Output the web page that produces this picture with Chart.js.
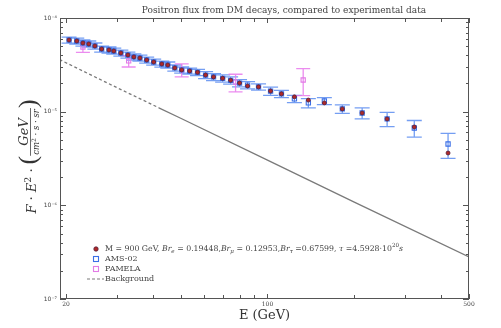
<!DOCTYPE html>
<html>
<head>
<meta charset="utf-8">
<script src="https://cdn.jsdelivr.net/npm/chart.js@4.4.0/dist/chart.umd.min.js"></script>
<style>
  html, body { margin: 0; padding: 0; background: #fff; }
</style>
</head>
<body>
<canvas id="fluxChart" width="501" height="328"></canvas>
<script>
// energies of the AMS-02 bins (GeV), the model is evaluated at the same energies
const energies = [20.5, 21.8, 22.9, 24.0, 25.2, 26.6, 28.2, 29.3, 31.0, 32.8, 34.4, 36.1, 38.1, 40.3,
  43.0, 45.1, 47.7, 50.4, 53.7, 57.2, 61.0, 65.0, 69.9, 74.5, 80.0, 85.3, 93.1, 102.5, 111.8, 124,
  138.6, 157.5, 181.8, 213, 260, 323, 423];

const amsFlux = [5.82e-5, 5.68e-5, 5.41e-5, 5.28e-5, 5.03e-5, 4.67e-5, 4.56e-5, 4.44e-5, 4.23e-5, 4.03e-5,
  3.84e-5, 3.74e-5, 3.56e-5, 3.39e-5, 3.23e-5, 3.15e-5, 2.93e-5, 2.79e-5, 2.72e-5, 2.63e-5,
  2.46e-5, 2.35e-5, 2.27e-5, 2.16e-5, 2.02e-5, 1.92e-5, 1.84e-5, 1.66e-5, 1.55e-5, 1.37e-5,
  1.24e-5, 1.30e-5, 1.07e-5, 9.68e-6, 8.36e-6, 6.70e-6, 4.52e-6];

const amsErr = [0.44e-5, 0.43e-5, 0.41e-5, 0.40e-5, 0.38e-5, 0.35e-5, 0.34e-5, 0.33e-5, 0.32e-5, 0.30e-5,
  0.29e-5, 0.28e-5, 0.27e-5, 0.25e-5, 0.24e-5, 0.24e-5, 0.22e-5, 0.21e-5, 0.20e-5, 0.20e-5,
  0.21e-5, 0.20e-5, 0.20e-5, 0.19e-5, 0.18e-5, 0.17e-5, 0.14e-5, 0.17e-5, 0.14e-5, 0.12e-5,
  0.14e-5, 0.11e-5, 0.11e-5, 0.13e-5, 0.145e-5, 0.135e-5, 0.135e-5];

const modelFlux = [5.82e-5, 5.68e-5, 5.41e-5, 5.28e-5, 5.03e-5, 4.67e-5, 4.56e-5, 4.44e-5, 4.23e-5, 4.03e-5,
  3.84e-5, 3.74e-5, 3.56e-5, 3.39e-5, 3.23e-5, 3.15e-5, 2.93e-5, 2.79e-5, 2.72e-5, 2.63e-5,
  2.46e-5, 2.35e-5, 2.27e-5, 2.16e-5, 2.02e-5, 1.88e-5, 1.84e-5, 1.66e-5, 1.55e-5, 1.44e-5,
  1.33e-5, 1.24e-5, 1.07e-5, 9.68e-6, 8.36e-6, 6.87e-6, 3.62e-6];

const pamelaE = [22.9, 33.0, 50.4, 77.5, 133];
const pamelaFlux = [4.90e-5, 3.48e-5, 2.79e-5, 2.07e-5, 2.18e-5];
const pamelaErr = [0.60e-5, 0.48e-5, 0.44e-5, 0.44e-5, 0.70e-5];

const bgE = [19, 30, 42, 50, 100, 200, 500];
const bgFlux = [3.6e-5, 1.81e-5, 1.10e-5, 8.5e-6, 3.04e-6, 1.08e-6, 2.81e-7];

const xTicks = [20, 30, 40, 50, 60, 70, 80, 90, 100, 200, 300, 400, 500];
const xLabels = [20, 100, 500];
const yLabelVals = [1e-7, 1e-6, 1e-5, 1e-4];
const yLabelText = ['10\u207B\u2077', '10\u207B\u2076', '10\u207B\u2075', '10\u207B\u2074'];

const titleText = 'Positron flux from DM decays, compared to experimental data';
// legend label of the model, split in pieces: n normal, i italic, sub, sup
const modelLabel = [
  ['M = 900 GeV, ', 'n'], ['Br', 'i'], ['e', 'sub'], [' = 0.19448,', 'n'],
  ['Br', 'i'], ['\u03BC', 'sub'], [' = 0.12953,', 'n'], ['Br', 'i'], ['\u03C4', 'sub'],
  [' =0.67599, ', 'n'], ['\u03C4', 'i'], [' =4.5928\u00B710', 'n'], ['20', 'sup'], ['s', 'i']
];

const serif = "'DejaVu Serif', 'Liberation Serif', serif";

// minor tick positions of the log y axis
const yTicks = [];
for (let p = -7; p < -4; p++) {
  for (let m = 1; m < 10; m++) yTicks.push(m * Math.pow(10, p));
}
yTicks.push(1e-4);

function pts(xs, ys) {
  return xs.map((x, i) => ({ x: x, y: ys[i] }));
}

function drawRich(ctx, parts, x, y, size) {
  parts.forEach(([t, k]) => {
    let s = size, dy = 0, style = '';
    if (k === 'i') style = 'italic ';
    if (k === 'sub') { s = size * 0.72; dy = size * 0.3; style = 'italic '; }
    if (k === 'sup') { s = size * 0.72; dy = -size * 0.4; }
    ctx.font = style + s + 'px ' + serif;
    ctx.fillText(t, x, y + dy);
    x += ctx.measureText(t).width;
  });
  return x;
}

function richWidth(ctx, parts, size) {
  let w = 0;
  parts.forEach(([t, k]) => {
    let s = size, style = '';
    if (k === 'i') style = 'italic ';
    if (k === 'sub') { s = size * 0.72; style = 'italic '; }
    if (k === 'sup') s = size * 0.72;
    ctx.font = style + s + 'px ' + serif;
    w += ctx.measureText(t).width;
  });
  return w;
}

// error bars with caps
const errorBars = {
  id: 'errorBars',
  beforeDatasetsDraw(chart) {
    const { ctx, chartArea: a, scales: { x, y } } = chart;
    ctx.save();
    ctx.beginPath();
    ctx.rect(a.left, a.top, a.right - a.left, a.bottom - a.top);
    ctx.clip();
    const bars = (xs, vals, errs, color, cap) => {
      ctx.strokeStyle = color;
      ctx.lineWidth = 1.3;
      xs.forEach((e, i) => {
        const px = x.getPixelForValue(e);
        const hi = y.getPixelForValue(vals[i] + errs[i]);
        const lo = y.getPixelForValue(vals[i] - errs[i]);
        ctx.beginPath();
        ctx.moveTo(px, hi); ctx.lineTo(px, lo);
        ctx.moveTo(px - cap, hi); ctx.lineTo(px + cap, hi);
        ctx.moveTo(px - cap, lo); ctx.lineTo(px + cap, lo);
        ctx.stroke();
      });
    };
    bars(energies, amsFlux, amsErr, 'rgba(70,125,238,0.75)', 7.5);
    bars(pamelaE, pamelaFlux, pamelaErr, 'rgba(232,120,236,0.85)', 7);
    ctx.restore();
  }
};

// frame with inward ticks on all four sides
const frame = {
  id: 'frame',
  afterDraw(chart) {
    const { ctx, chartArea: a, scales: { x, y } } = chart;
    ctx.save();
    ctx.strokeStyle = '#555';
    ctx.lineWidth = 1;
    ctx.strokeRect(a.left + 0.5, a.top + 0.5, a.right - a.left - 1, a.bottom - a.top - 1);
    ctx.beginPath();
    x.ticks.forEach(t => {
      const px = Math.round(x.getPixelForValue(t.value)) + 0.5;
      const len = xLabels.includes(t.value) ? 5 : 4;
      ctx.moveTo(px, a.bottom); ctx.lineTo(px, a.bottom - len);
      ctx.moveTo(px, a.top); ctx.lineTo(px, a.top + len);
    });
    y.ticks.forEach(t => {
      const py = Math.round(y.getPixelForValue(t.value)) + 0.5;
      const len = yLabelVals.includes(t.value) ? 6 : 3;
      ctx.moveTo(a.left, py); ctx.lineTo(a.left + len, py);
      ctx.moveTo(a.right, py); ctx.lineTo(a.right - len, py);
    });
    ctx.stroke();
    ctx.restore();
  }
};

// title, rotated y title and legend
const texts = {
  id: 'texts',
  afterDraw(chart) {
    const { ctx, chartArea: a } = chart;
    ctx.save();
    ctx.fillStyle = '#444';
    ctx.textBaseline = 'middle';
    ctx.textAlign = 'center';
    ctx.font = '9px ' + serif;
    ctx.fillText(titleText, 284, 11);

    // legend
    ctx.textAlign = 'left';
    const lx = a.left + 36, tx = a.left + 45, ly = a.bottom - 50, step = 10;
    ctx.beginPath();
    ctx.arc(lx, ly, 2.2, 0, Math.PI * 2);
    ctx.fillStyle = '#b02828';
    ctx.fill();
    ctx.strokeStyle = '#55203a';
    ctx.lineWidth = 0.8;
    ctx.stroke();
    ctx.lineWidth = 1.1;
    ctx.strokeStyle = '#3b6fe6';
    ctx.strokeRect(lx - 2.5, ly + step - 2.5, 5, 5);
    ctx.strokeStyle = '#e27be6';
    ctx.strokeRect(lx - 2.5, ly + 2 * step - 2.5, 5, 5);
    ctx.strokeStyle = '#7a7a7a';
    ctx.lineWidth = 1.2;
    ctx.setLineDash([3, 2]);
    ctx.beginPath();
    ctx.moveTo(lx - 9, ly + 3 * step); ctx.lineTo(lx + 8, ly + 3 * step);
    ctx.stroke();
    ctx.setLineDash([]);
    ctx.fillStyle = '#444';
    drawRich(ctx, modelLabel, tx, ly, 7.8);
    ctx.font = '8px ' + serif;
    ctx.fillText('AMS-02', tx, ly + step);
    ctx.fillText('PAMELA', tx, ly + 2 * step);
    ctx.fillText('Background', tx, ly + 3 * step);

    // y axis title, drawn rotated
    ctx.translate(31, (a.top + a.bottom) / 2 - 2);
    ctx.rotate(-Math.PI / 2);
    ctx.textBaseline = 'alphabetic';
    ctx.fillStyle = '#333';
    const lead = [['F', 'i'], [' \u00B7 ', 'n'], ['E', 'i'], ['2', 'sup'], [' \u00B7', 'n']];
    const num = [['GeV', 'i']];
    const den = [['cm', 'i'], ['2', 'sup'], [' \u00B7 ', 'n'], ['s', 'i'], [' \u00B7 ', 'n'], ['sr', 'i']];
    const wLead = richWidth(ctx, lead, 13);
    const wNum = richWidth(ctx, num, 13);
    const wDen = richWidth(ctx, den, 8.5);
    const wFrac = Math.max(wNum, wDen) + 2;
    ctx.font = '26px ' + "'Liberation Serif', serif";
    const wPar = ctx.measureText('(').width;
    const total = wLead + 4 + wPar + wFrac + wPar;
    let u = -total / 2;
    drawRich(ctx, lead, u, 5, 13);
    u += wLead + 4;
    ctx.font = '26px ' + "'Liberation Serif', serif";
    ctx.fillText('(', u, 5);
    u += wPar;
    const cu = u + wFrac / 2;
    drawRich(ctx, num, cu - wNum / 2, -3, 13);
    drawRich(ctx, den, cu - wDen / 2, 8, 8.5);
    ctx.strokeStyle = '#444';
    ctx.lineWidth = 0.8;
    ctx.beginPath();
    ctx.moveTo(u, -0.5); ctx.lineTo(u + wFrac, -0.5);
    ctx.stroke();
    u += wFrac;
    ctx.font = '26px ' + "'Liberation Serif', serif";
    ctx.fillText(')', u, 5);
    ctx.restore();
  }
};

new Chart(document.getElementById('fluxChart'), {
  type: 'scatter',
  data: {
    datasets: [{
      label: 'Model',
      data: pts(energies, modelFlux),
      pointStyle: 'circle',
      pointRadius: 2,
      backgroundColor: '#b02828',
      borderColor: '#55203a',
      borderWidth: 0.8,
      order: 1
    }, {
      label: 'AMS-02',
      data: pts(energies, amsFlux),
      pointStyle: 'rect',
      pointRadius: 3,
      backgroundColor: 'rgba(0,0,0,0)',
      borderColor: '#3b6fe6',
      borderWidth: 1.1,
      order: 2
    }, {
      label: 'PAMELA',
      data: pts(pamelaE, pamelaFlux),
      pointStyle: 'rect',
      pointRadius: 3,
      backgroundColor: 'rgba(0,0,0,0)',
      borderColor: '#e27be6',
      borderWidth: 1.1,
      order: 3
    }, {
      label: 'Background',
      type: 'line',
      data: pts(bgE, bgFlux),
      borderColor: '#7a7a7a',
      borderWidth: 1.3,
      pointRadius: 0,
      fill: false,
      tension: 0,
      segment: {
        borderDash: c => c.p0.parsed.x < 42 ? [3, 2.5] : undefined
      },
      order: 4
    }]
  },
  options: {
    responsive: false,
    animation: false,
    layout: {
      padding: { top: 18, right: 32, bottom: 0, left: 0 }
    },
    plugins: {
      legend: { display: false },
      tooltip: { enabled: false },
      title: { display: false }
    },
    scales: {
      x: {
        type: 'logarithmic',
        position: 'bottom',
        min: 19.07,
        max: 500,
        grid: { display: false, drawTicks: false },
        border: { display: false },
        afterBuildTicks: s => { s.ticks = xTicks.map(v => ({ value: v })); },
        afterFit: s => { s.height = 29; },
        ticks: {
          autoSkip: false,
          maxRotation: 0,
          padding: 2,
          color: '#444',
          font: { family: serif, size: 6 },
          callback: v => xLabels.includes(v) ? String(v) : ''
        },
        title: {
          display: true,
          text: 'E (GeV)',
          color: '#333',
          font: { family: serif, size: 13 },
          padding: { top: 0, bottom: 5 }
        }
      },
      y: {
        type: 'logarithmic',
        min: 1e-7,
        max: 1e-4,
        grid: { display: false, drawTicks: false },
        border: { display: false },
        afterBuildTicks: s => { s.ticks = yTicks.map(v => ({ value: v })); },
        afterFit: s => { s.width = 60; },
        ticks: {
          autoSkip: false,
          padding: 3,
          color: '#444',
          font: { family: 'DejaVu Sans', size: 6 },
          callback: v => {
            const i = yLabelVals.indexOf(v);
            return i >= 0 ? yLabelText[i] : '';
          }
        }
      }
    }
  },
  plugins: [errorBars, frame, texts]
});
</script>
</body>
</html>
